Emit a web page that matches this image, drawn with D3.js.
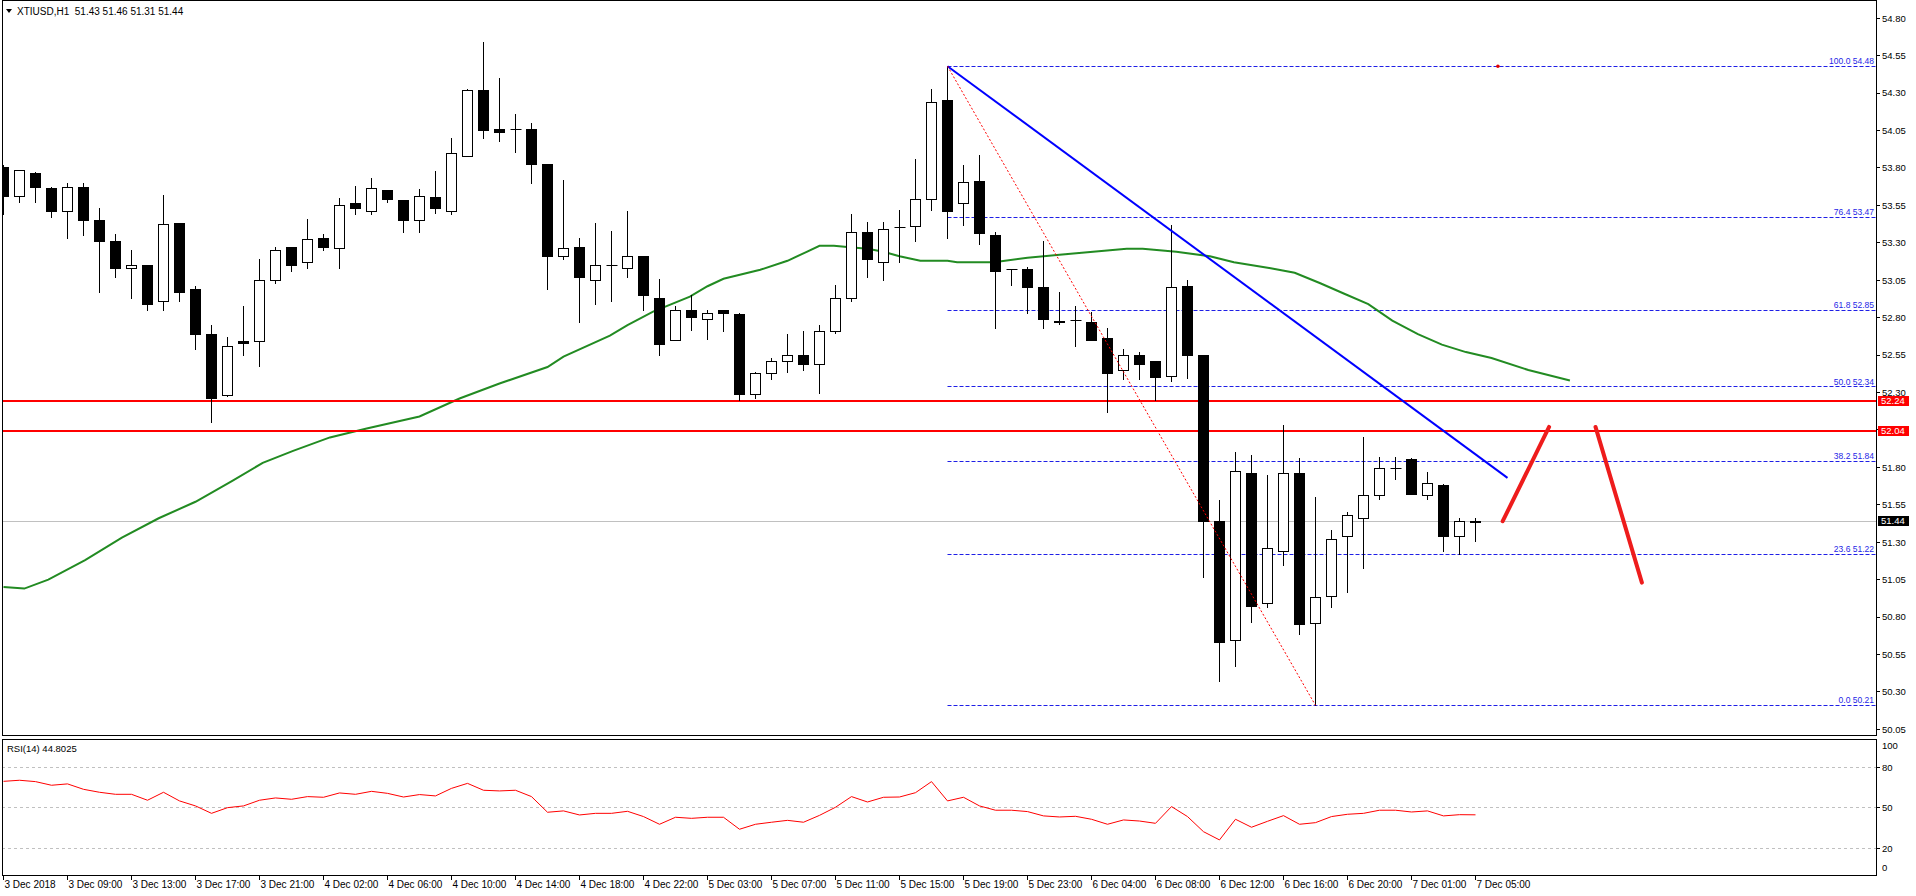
<!DOCTYPE html>
<html>
<head>
<meta charset="utf-8">
<script src="https://cdn.jsdelivr.net/npm/d3@7"></script>
<style>
  body { margin: 0; background: #fff; }
  svg { display: block; font-family: "Liberation Sans", Arial, sans-serif; }
</style>
</head>
<body>
<svg id="chart" width="1916" height="896"></svg>
<script>
"use strict";

// XTIUSD H1 candles (bar 0 = 3 Dec, last = 7 Dec 05:00)
var opens = [53.80, 53.61, 53.76, 53.66, 53.51, 53.67, 53.45, 53.31, 53.13, 53.15,
  52.91, 53.43, 52.99, 52.69, 52.28, 52.64, 52.64, 53.05, 53.27, 53.17,
  53.33, 53.26, 53.56, 53.51, 53.65, 53.58, 53.45, 53.60, 53.51, 53.88,
  54.32, 54.06, 54.06, 54.06, 53.82, 53.21, 53.27, 53.05, 53.15, 53.13,
  53.21, 52.93, 52.65, 52.85, 52.79, 52.85, 52.82, 52.29, 52.43, 52.51,
  52.55, 52.49, 52.71, 52.93, 53.37, 53.17, 53.40, 53.41, 53.59, 54.25,
  53.56, 53.71, 53.35, 53.12, 53.12, 53.00, 52.775, 52.78, 52.77, 52.66,
  52.45, 52.55, 52.51, 52.41, 53.01, 52.55, 51.44, 50.64, 51.76, 50.89,
  51.24, 51.76, 50.76, 50.94, 51.34, 51.46, 51.61, 51.79, 51.85, 51.61,
  51.68, 51.34, 51.43];
var highs = [53.82, 53.78, 53.77, 53.67, 53.70, 53.70, 53.53, 53.36, 53.25, 53.15,
  53.62, 53.43, 53.01, 52.75, 52.67, 52.88, 53.19, 53.27, 53.27, 53.46,
  53.36, 53.60, 53.68, 53.73, 53.65, 53.58, 53.66, 53.78, 54.00, 54.33,
  54.64, 54.40, 54.16, 54.10, 53.82, 53.72, 53.33, 53.43, 53.38, 53.51,
  53.21, 53.06, 52.88, 52.95, 52.85, 52.85, 52.83, 52.44, 52.53, 52.69,
  52.71, 52.75, 53.02, 53.49, 53.44, 53.44, 53.52, 53.86, 54.33, 54.48,
  53.82, 53.89, 53.37, 53.12, 53.14, 53.31, 52.97, 52.88, 52.84, 52.73,
  52.59, 52.57, 52.51, 53.42, 53.05, 52.55, 51.58, 51.90, 51.88, 51.75,
  52.08, 51.86, 51.60, 51.38, 51.50, 52.00, 51.87, 51.87, 51.86, 51.77,
  51.69, 51.46, 51.46];
var lows = [53.49, 53.57, 53.57, 53.47, 53.33, 53.35, 52.97, 53.07, 52.93, 52.85,
  52.85, 52.91, 52.59, 52.10, 52.28, 52.55, 52.48, 53.03, 53.11, 53.13,
  53.25, 53.13, 53.49, 53.49, 53.57, 53.37, 53.37, 53.50, 53.49, 53.88,
  54.00, 53.98, 53.91, 53.70, 52.99, 53.19, 52.77, 52.89, 52.91, 53.07,
  52.85, 52.55, 52.65, 52.72, 52.66, 52.71, 52.25, 52.26, 52.39, 52.44,
  52.45, 52.30, 52.70, 52.91, 53.07, 53.05, 53.17, 53.31, 53.52, 53.33,
  53.42, 53.29, 52.73, 53.02, 52.83, 52.73, 52.76, 52.61, 52.65, 52.17,
  52.39, 52.39, 52.25, 52.38, 52.40, 51.07, 50.37, 50.47, 50.77, 50.87,
  51.15, 50.69, 50.21, 50.87, 50.97, 51.13, 51.59, 51.72, 51.62, 51.59,
  51.24, 51.22, 51.31];
var closes = [53.61, 53.78, 53.67, 53.51, 53.67, 53.45, 53.31, 53.13, 53.15, 52.89,
  53.42, 52.97, 52.69, 52.26, 52.61, 52.63, 53.05, 53.25, 53.15, 53.32,
  53.27, 53.55, 53.53, 53.66, 53.59, 53.45, 53.61, 53.53, 53.90, 54.32,
  54.05, 54.04, 54.06, 53.82, 53.21, 53.26, 53.07, 53.15, 53.15, 53.21,
  52.95, 52.62, 52.85, 52.80, 52.83, 52.83, 52.29, 52.43, 52.51, 52.55,
  52.49, 52.71, 52.93, 53.37, 53.19, 53.39, 53.40, 53.59, 54.24, 53.51,
  53.70, 53.36, 53.11, 53.12, 53.00, 52.79, 52.765, 52.78, 52.65, 52.43,
  52.55, 52.49, 52.40, 53.00, 52.55, 51.44, 50.63, 51.77, 50.87, 51.26,
  51.76, 50.75, 50.93, 51.32, 51.48, 51.61, 51.79, 51.79, 51.62, 51.69,
  51.34, 51.44, 51.44];

// time axis labels, one every 4 bars
var timeLabels = ["3 Dec 2018", "3 Dec 09:00", "3 Dec 13:00", "3 Dec 17:00", "3 Dec 21:00",
  "4 Dec 02:00", "4 Dec 06:00", "4 Dec 10:00", "4 Dec 14:00", "4 Dec 18:00", "4 Dec 22:00",
  "5 Dec 03:00", "5 Dec 07:00", "5 Dec 11:00", "5 Dec 15:00", "5 Dec 19:00", "5 Dec 23:00",
  "6 Dec 04:00", "6 Dec 08:00", "6 Dec 12:00", "6 Dec 16:00", "6 Dec 20:00", "7 Dec 01:00",
  "7 Dec 05:00"];
var labelStep = 4;

// moving average (shifted forward), sampled along the green line
var maBars = [0, 1.3, 2.8, 5.1, 7.4, 9.7, 12, 14.3, 16.2, 18.1, 20.4, 22.7, 26, 28.5, 31,
  34, 35, 37.9, 39, 40.6, 42.9, 44, 45, 47.3, 49, 50.2, 51, 51.9, 52.9, 54, 55, 56,
  57.3, 59, 59.6, 61.9, 64, 66, 68.1, 70.2, 71.2, 73.3, 75.4, 76.9, 79.2, 80.7, 82.3,
  83.8, 85.3, 86.8, 88.4, 89.9, 91.4, 93, 95.3, 97.9];
var maValues = [51.00, 50.99, 51.05, 51.18, 51.33, 51.46, 51.57, 51.71, 51.83, 51.91,
  52.00, 52.06, 52.14, 52.26, 52.36, 52.47, 52.54, 52.68, 52.75, 52.84, 52.94, 53.01,
  53.06, 53.12, 53.18, 53.24, 53.28, 53.28, 53.27, 53.26, 53.24, 53.21, 53.18, 53.18,
  53.17, 53.17, 53.20, 53.22, 53.24, 53.26, 53.26, 53.24, 53.21, 53.17, 53.13, 53.10,
  53.03, 52.96, 52.89, 52.78, 52.69, 52.62, 52.57, 52.53, 52.45, 52.38];

// RSI(14), one value per bar
var rsiValues = [69.6, 70.4, 69.4, 66.7, 67.7, 63.7, 61.5, 60.0, 60.0, 55.6,
  61.5, 55.1, 51.4, 45.9, 50.1, 51.4, 55.6, 57.3, 56.3, 58.3,
  57.8, 61.0, 60.0, 62.2, 60.7, 58.0, 59.8, 58.8, 64.4, 68.1,
  63.0, 62.5, 63.0, 58.3, 46.7, 47.7, 44.7, 45.9, 45.9, 47.4,
  43.5, 37.8, 43.0, 42.2, 43.0, 43.0, 34.1, 37.8, 39.3, 40.7,
  39.3, 44.4, 50.4, 58.3, 54.3, 57.8, 58.0, 61.2, 69.4, 55.1,
  57.8, 51.4, 48.2, 48.2, 47.2, 44.0, 43.2, 43.7, 41.5, 37.8,
  41.0, 40.2, 38.5, 50.9, 43.5, 32.3, 26.2, 41.5, 35.6, 40.0,
  44.2, 37.8, 39.0, 43.5, 45.2, 45.9, 48.2, 48.2, 46.9, 47.7,
  44.0, 44.9, 44.8];

var priceTicks = [54.80, 54.55, 54.30, 54.05, 53.80, 53.55, 53.30, 53.05, 52.80, 52.55,
  52.30, 52.05, 51.80, 51.55, 51.30, 51.05, 50.80, 50.55, 50.30, 50.05];
var rsiTicks = [100, 80, 50, 20, 0];
var rsiLevels = [80, 50, 20];

// fibonacci retracement from the 54.48 high (bar 59) to the 50.21 low (bar 82)
var fibBars = [59, 82];
var fibRatios = ["100.0", "76.4", "61.8", "50.0", "38.2", "23.6", "0.0"];
var fibPrices = [54.48, 53.47, 52.85, 52.34, 51.84, 51.22, 50.21];

var levelPrices = [52.24, 52.04];
var lastPrice = 51.44;
var titleText = "XTIUSD,H1  51.43 51.46 51.31 51.44";
var rsiText = "RSI(14) 44.8025";

// hand drawn annotations (bar index, price)
var trendBars = [59, 94], trendPrices = [54.48, 51.73];
var upBars = [93.7, 96.6], upPrices = [51.44, 52.07];
var downBars = [99.5, 102.4], downPrices = [52.07, 51.03];
var dotBar = 93.4, dotPrice = 54.48;

var svg = d3.select("#chart");
var left = 2, right = 1876;
var mainTop = 0, mainBottom = 735;
var rsiTop = 739, rsiBottom = 875;

var x = d3.scaleLinear().domain([0, 92]).range([3.5, 1475.5]);
var y = d3.scaleLinear().domain([50.05, 54.80]).range([729.3, 18.3]);
var yr = d3.scaleLinear().domain([0, 100]).range([875.3, 740.3]);

function snap(v) { return Math.round(v - 0.5) + 0.5; }

svg.append("rect").attr("width", 1916).attr("height", 896).attr("fill", "#fff");

var defs = svg.append("defs");
defs.append("clipPath").attr("id", "clipMain").append("rect")
    .attr("x", left).attr("y", mainTop).attr("width", right - left).attr("height", mainBottom - mainTop);
defs.append("clipPath").attr("id", "clipRsi").append("rect")
    .attr("x", left).attr("y", rsiTop).attr("width", right - left).attr("height", rsiBottom - rsiTop);

var main = svg.append("g").attr("clip-path", "url(#clipMain)");
var rsiG = svg.append("g").attr("clip-path", "url(#clipRsi)");

// current price line
main.append("line")
    .attr("x1", left).attr("x2", right)
    .attr("y1", snap(y(lastPrice))).attr("y2", snap(y(lastPrice)))
    .attr("stroke", "#c0c0c0").attr("stroke-width", 1);

// fibonacci levels
main.selectAll(".fib")
    .data(fibPrices)
  .enter().append("line")
    .attr("class", "fib")
    .attr("x1", x(fibBars[0])).attr("x2", right)
    .attr("y1", function(d) { return snap(y(d)); })
    .attr("y2", function(d) { return snap(y(d)); })
    .attr("stroke", "#1f1fe6").attr("stroke-width", 1)
    .attr("stroke-dasharray", "4,2");

main.selectAll(".fibLabel")
    .data(fibPrices)
  .enter().append("text")
    .attr("class", "fibLabel")
    .attr("x", right - 2)
    .attr("y", function(d) { return y(d) - 2; })
    .attr("text-anchor", "end")
    .attr("font-size", 8.5)
    .attr("fill", "#1f1fe6")
    .text(function(d, k) { return fibRatios[k] + " " + d.toFixed(2); });

// moving average
var maLine = d3.line()
    .x(function(d, k) { return x(maBars[k]); })
    .y(function(d) { return y(d); });

main.append("path")
    .datum(maValues)
    .attr("fill", "none")
    .attr("stroke", "#228b22")
    .attr("stroke-width", 2)
    .attr("d", maLine);

// support / resistance
main.selectAll(".level")
    .data(levelPrices)
  .enter().append("line")
    .attr("class", "level")
    .attr("x1", left).attr("x2", right)
    .attr("y1", function(d) { return Math.round(y(d)); })
    .attr("y2", function(d) { return Math.round(y(d)); })
    .attr("stroke", "#ff0000").attr("stroke-width", 2);

// candles
var idx = d3.range(opens.length);
var candle = main.selectAll(".candle")
    .data(idx)
  .enter().append("g")
    .attr("class", "candle");

candle.append("line")
    .attr("x1", function(i) { return x(i); })
    .attr("x2", function(i) { return x(i); })
    .attr("y1", function(i) { return Math.round(y(highs[i])); })
    .attr("y2", function(i) { return Math.round(y(lows[i])) + 1; })
    .attr("stroke", "#000").attr("stroke-width", 1);

candle.each(function(i) {
  var g = d3.select(this);
  var top = snap(y(Math.max(opens[i], closes[i])));
  var bot = snap(y(Math.min(opens[i], closes[i])));
  if (bot - top < 1) {
    g.append("line")
        .attr("x1", x(i) - 5).attr("x2", x(i) + 6)
        .attr("y1", top).attr("y2", top)
        .attr("stroke", "#000").attr("stroke-width", 1);
  } else {
    g.append("rect")
        .attr("x", x(i) - 5).attr("y", top)
        .attr("width", 10).attr("height", bot - top)
        .attr("fill", closes[i] >= opens[i] ? "#fff" : "#000")
        .attr("stroke", "#000").attr("stroke-width", 1);
  }
});

// trend line and fibonacci base line
main.append("line")
    .attr("x1", x(trendBars[0])).attr("y1", y(trendPrices[0]))
    .attr("x2", x(trendBars[1])).attr("y2", y(trendPrices[1]))
    .attr("stroke", "#0000ff").attr("stroke-width", 2);

main.append("line")
    .attr("x1", x(fibBars[0])).attr("y1", y(fibPrices[0]))
    .attr("x2", x(fibBars[1])).attr("y2", y(fibPrices[fibPrices.length - 1]))
    .attr("stroke", "#ff0000").attr("stroke-width", 1)
    .attr("stroke-dasharray", "2,2");

main.append("circle")
    .attr("cx", x(dotBar)).attr("cy", y(dotPrice)).attr("r", 1.8)
    .attr("fill", "#e00000");

// expected move arrows
[[upBars, upPrices], [downBars, downPrices]].forEach(function(p) {
  main.append("line")
      .attr("x1", x(p[0][0])).attr("y1", y(p[1][0]))
      .attr("x2", x(p[0][1])).attr("y2", y(p[1][1]))
      .attr("stroke", "#ee1c1c").attr("stroke-width", 4)
      .attr("stroke-linecap", "round");
});

// RSI panel
rsiG.selectAll(".rsiLevel")
    .data(rsiLevels)
  .enter().append("line")
    .attr("x1", left).attr("x2", right)
    .attr("y1", function(d) { return snap(yr(d)); })
    .attr("y2", function(d) { return snap(yr(d)); })
    .attr("stroke", "#c0c0c0").attr("stroke-width", 1)
    .attr("stroke-dasharray", "3,3");

rsiG.append("path")
    .datum(rsiValues)
    .attr("fill", "none")
    .attr("stroke", "#ff0000")
    .attr("stroke-width", 1)
    .attr("d", d3.line()
      .x(function(d, i) { return x(i); })
      .y(function(d) { return yr(d); }));

// frames
svg.append("rect")
    .attr("x", left + 0.5).attr("y", mainTop + 0.5)
    .attr("width", right - left).attr("height", mainBottom - mainTop)
    .attr("fill", "none").attr("stroke", "#000");
svg.append("rect")
    .attr("x", left + 0.5).attr("y", rsiTop + 0.5)
    .attr("width", right - left).attr("height", rsiBottom - rsiTop)
    .attr("fill", "none").attr("stroke", "#000");

// price axis
var axisX = right + 1;
svg.selectAll(".pTick")
    .data(priceTicks)
  .enter().append("line")
    .attr("x1", axisX).attr("x2", axisX + 3)
    .attr("y1", function(d) { return snap(y(d)); })
    .attr("y2", function(d) { return snap(y(d)); })
    .attr("stroke", "#000");

svg.selectAll(".pLabel")
    .data(priceTicks)
  .enter().append("text")
    .attr("x", axisX + 5)
    .attr("y", function(d) { return y(d); })
    .attr("dy", "0.35em")
    .attr("font-size", 9.5)
    .text(function(d) { return d.toFixed(2); });

// price boxes on the axis
function priceBox(price, color) {
  var cy = Math.round(y(price));
  svg.append("rect")
      .attr("x", axisX + 1).attr("y", cy - 5)
      .attr("width", 31).attr("height", 10)
      .attr("fill", color);
  svg.append("text")
      .attr("x", axisX + 4).attr("y", cy)
      .attr("dy", "0.36em")
      .attr("font-size", 9.5)
      .attr("fill", "#fff")
      .text(price.toFixed(2));
}
levelPrices.forEach(function(p) { priceBox(p, "#ff0000"); });
priceBox(lastPrice, "#000");

// RSI axis
svg.selectAll(".rTick")
    .data(rsiLevels)
  .enter().append("line")
    .attr("x1", axisX).attr("x2", axisX + 3)
    .attr("y1", function(d) { return snap(yr(d)); })
    .attr("y2", function(d) { return snap(yr(d)); })
    .attr("stroke", "#000");

svg.selectAll(".rLabel")
    .data(rsiTicks)
  .enter().append("text")
    .attr("x", axisX + 5)
    .attr("y", function(d) { return Math.min(Math.max(yr(d), rsiTop + 7), rsiBottom - 7); })
    .attr("dy", "0.35em")
    .attr("font-size", 9.5)
    .text(function(d) { return d; });

// time axis
svg.selectAll(".tTick")
    .data(timeLabels)
  .enter().append("line")
    .attr("x1", function(d, k) { return x(k * labelStep); })
    .attr("x2", function(d, k) { return x(k * labelStep); })
    .attr("y1", rsiBottom + 1).attr("y2", rsiBottom + 5)
    .attr("stroke", "#000");

svg.selectAll(".tLabel")
    .data(timeLabels)
  .enter().append("text")
    .attr("x", function(d, k) { return x(k * labelStep) + 1; })
    .attr("y", 888)
    .attr("font-size", 10)
    .text(function(d) { return d; });

// titles
svg.append("path")
    .attr("d", d3.line()([[6, 9], [12, 9], [9, 13]]) + "Z")
    .attr("fill", "#000");
svg.append("text")
    .attr("x", 17).attr("y", 14.5)
    .attr("font-size", 10)
    .style("white-space", "pre")
    .text(titleText);
svg.append("text")
    .attr("x", 7).attr("y", 752)
    .attr("font-size", 9.5)
    .text(rsiText);
</script>
</body>
</html>
